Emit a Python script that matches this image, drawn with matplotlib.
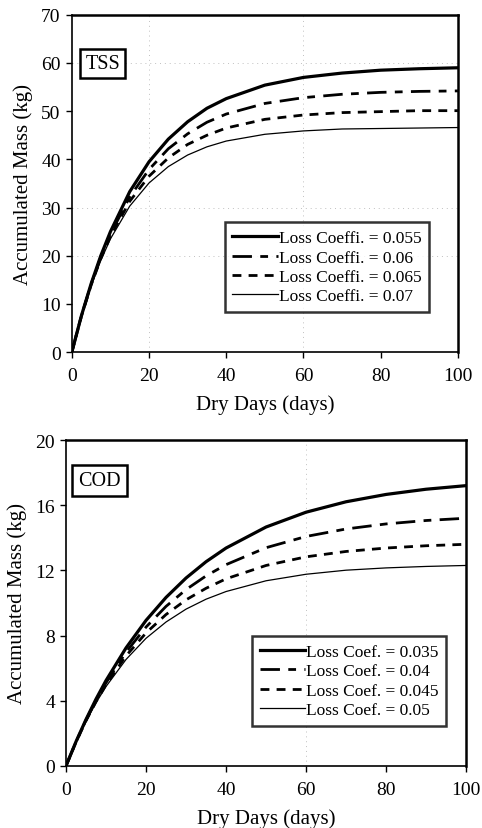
import matplotlib
matplotlib.use("Agg")
import matplotlib.pyplot as plt

plt.rcParams['font.family'] = ['Liberation Serif', 'DejaVu Serif']

# Data
days = [0, 2.5, 5, 7.5, 10, 15, 20, 25, 30, 35, 40, 50, 60, 70, 80, 90, 100]

tss_labels = ['Loss Coeffi. = 0.055', 'Loss Coeffi. = 0.06',
              'Loss Coeffi. = 0.065', 'Loss Coeffi. = 0.07']
tss_055 = [0, 7.6, 14.2, 20.0, 25.0, 33.3, 39.5, 44.2, 47.8, 50.6, 52.6, 55.4, 57.0, 57.9, 58.5, 58.8, 59.0]
tss_060 = [0, 7.6, 14.1, 19.7, 24.5, 32.2, 37.9, 42.2, 45.3, 47.7, 49.4, 51.6, 52.8, 53.5, 53.9, 54.1, 54.2]
tss_065 = [0, 7.5, 13.9, 19.4, 24.0, 31.3, 36.5, 40.3, 43.1, 45.0, 46.5, 48.3, 49.2, 49.7, 49.9, 50.1, 50.1]
tss_070 = [0, 7.5, 13.8, 19.0, 23.5, 30.3, 35.1, 38.5, 40.9, 42.6, 43.8, 45.2, 45.9, 46.3, 46.4, 46.5, 46.6]

cod_labels = ['Loss Coef. = 0.035', 'Loss Coef. = 0.04',
              'Loss Coef. = 0.045', 'Loss Coef. = 0.05']
cod_035 = [0, 1.49, 2.85, 4.10, 5.24, 7.24, 8.93, 10.34, 11.53, 12.53, 13.37, 14.66, 15.57, 16.21, 16.66, 16.98, 17.20]
cod_040 = [0, 1.47, 2.81, 4.01, 5.10, 6.98, 8.52, 9.79, 10.82, 11.66, 12.35, 13.39, 14.08, 14.54, 14.85, 15.06, 15.20]
cod_045 = [0, 1.46, 2.77, 3.94, 4.98, 6.75, 8.16, 9.29, 10.19, 10.90, 11.48, 12.30, 12.83, 13.16, 13.37, 13.51, 13.60]
cod_050 = [0, 1.45, 2.74, 3.87, 4.87, 6.53, 7.83, 8.83, 9.62, 10.23, 10.70, 11.36, 11.76, 12.01, 12.15, 12.24, 12.30]

# line styles: thick solid, long-short dash, short dash, thin solid
styles = [dict(lw=2.3, ls='-'),
          dict(lw=2.0, ls=(0, (7, 3, 2.8, 3))),
          dict(lw=2.0, ls=(0, (3.2, 2.6))),
          dict(lw=0.9, ls='-')]

fig = plt.figure(figsize=(4.82, 8.29), dpi=100)
ax1 = fig.add_axes([0.149, 0.574, 0.801, 0.407])
ax2 = fig.add_axes([0.137, 0.075, 0.830, 0.393])


def style_axes(ax, ylim, yticks, vgrid, hgrid):
    ax.set_xlim(0, 100)
    ax.set_ylim(*ylim)
    ax.set_xticks([0, 20, 40, 60, 80, 100])
    ax.set_yticks(yticks)
    for x in vgrid:
        ax.axvline(x, color='#c0c0c0', lw=0.7, ls=(0, (1, 4)), zorder=0)
    for y in hgrid:
        ax.axhline(y, color='#c0c0c0', lw=0.7, ls=(0, (1, 4)), zorder=0)
    ax.tick_params(direction='out', length=4, width=1, labelsize=14)
    ax.tick_params(axis='x', pad=7)
    ax.tick_params(axis='y', pad=4)
    for s in ['left', 'bottom']:
        ax.spines[s].set_linewidth(1.2)
    for s in ['top', 'right']:
        ax.spines[s].set_linewidth(1.8)
    ax.set_xlabel('Dry Days (days)', fontsize=15, labelpad=7)
    ax.set_ylabel('Accumulated Mass (kg)', fontsize=15, labelpad=6)


def style_legend(leg):
    leg.get_frame().set_edgecolor('black')
    leg.get_frame().set_linewidth(1.8)


for vals, lab, st in zip([tss_055, tss_060, tss_065, tss_070], tss_labels, styles):
    ax1.plot(days, vals, color='black', label=lab, **st)
style_axes(ax1, (0, 70), [0, 10, 20, 30, 40, 50, 60, 70], [20, 60], [20, 30, 60])
leg1 = ax1.legend(loc='lower right', bbox_to_anchor=(0.925, 0.119), fontsize=12.5,
                  frameon=True, fancybox=False, handlelength=2.6,
                  handletextpad=0.05, labelspacing=0.18, borderpad=0.45,
                  borderaxespad=0)
style_legend(leg1)
ax1.text(0.035, 0.855, 'TSS', transform=ax1.transAxes, fontsize=14.5,
         ha='left', va='center',
         bbox=dict(boxstyle='square,pad=0.25', fc='white', ec='black', lw=1.8))

for vals, lab, st in zip([cod_035, cod_040, cod_045, cod_050], cod_labels, styles):
    ax2.plot(days, vals, color='black', label=lab, **st)
style_axes(ax2, (0, 20), [0, 4, 8, 12, 16, 20], [60], [])
leg2 = ax2.legend(loc='lower right', bbox_to_anchor=(0.95, 0.123), fontsize=12.5,
                  frameon=True, fancybox=False, handlelength=2.6,
                  handletextpad=0.05, labelspacing=0.18, borderpad=0.45,
                  borderaxespad=0)
style_legend(leg2)
ax2.text(0.03, 0.876, 'COD', transform=ax2.transAxes, fontsize=14.5,
         ha='left', va='center',
         bbox=dict(boxstyle='square,pad=0.3', fc='white', ec='black', lw=1.8))

fig.savefig('out.png', dpi=100)
